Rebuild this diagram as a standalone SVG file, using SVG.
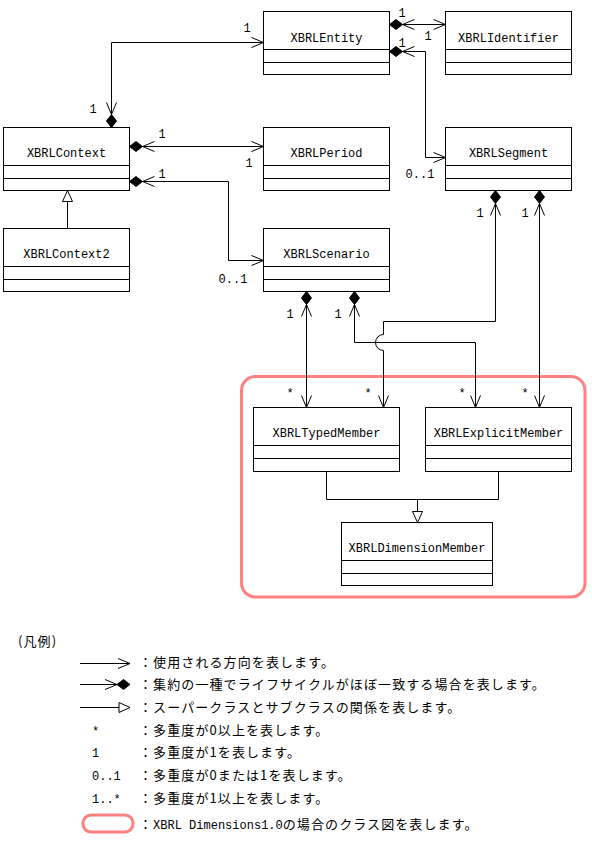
<svg xmlns="http://www.w3.org/2000/svg" width="592" height="842" viewBox="0 0 592 842">
<defs>
<style>
.box{fill:#fff;stroke:#000;stroke-width:1}
.dv{stroke:#000;stroke-width:1}
.nm{font-family:"Liberation Mono","DejaVu Sans Mono",monospace;font-size:12px;text-anchor:middle;fill:#000}
.ml{font-family:"Liberation Mono","DejaVu Sans Mono",monospace;font-size:12px;text-anchor:middle;fill:#000}
.ms{font-family:"Liberation Mono","DejaVu Sans Mono",monospace;font-size:12px;fill:#000}
.cn{fill:none;stroke:#000;stroke-width:1}
.lg{font-family:"Noto Sans CJK JP",sans-serif;font-size:13px;fill:#000;letter-spacing:1.1px}
.lt{font-family:"Liberation Mono","DejaVu Sans Mono",monospace;font-size:12px;letter-spacing:0}
.pk{fill:none;stroke:#FF8080;stroke-width:3}
</style>
<marker id="arr" markerUnits="userSpaceOnUse" orient="auto-start-reverse" overflow="visible" refX="0" refY="0" markerWidth="1" markerHeight="1">
<path d="M-12,-5 L0,0 L-12,5" fill="none" stroke="#000" stroke-width="1"/>
</marker>
<marker id="da" markerUnits="userSpaceOnUse" orient="auto-start-reverse" overflow="visible" refX="0" refY="0" markerWidth="1" markerHeight="1">
<path d="M0,0 L-6.5,-5 L-13,0 L-6.5,5 Z" fill="#000" stroke="#000" stroke-width="1"/>
<path d="M-25,-5 L-13,0 L-25,5" fill="none" stroke="#000" stroke-width="1"/>
</marker>
<marker id="tri" markerUnits="userSpaceOnUse" orient="auto-start-reverse" overflow="visible" refX="0" refY="0" markerWidth="1" markerHeight="1">
<path d="M-11,-5 L0,0 L-11,5 Z" fill="#fff" stroke="#000" stroke-width="1"/>
</marker>
</defs>
<rect width="592" height="842" fill="#fff"/>

<g id="dimensions-frame">
<rect class="pk" x="241.5" y="376.5" width="343.5" height="220.5" rx="14"/>
</g>

<g id="connectors">
<path class="cn" d="M111.5,127.5 V42.5 H263.5" marker-start="url(#da)" marker-end="url(#arr)"/>
<path class="cn" d="M129.5,146.5 H263.5" marker-start="url(#da)" marker-end="url(#arr)"/>
<path class="cn" d="M129.5,181.5 H228.5 V260.5 H263.5" marker-start="url(#da)" marker-end="url(#arr)"/>
<path class="cn" d="M389.5,24.5 H445.5" marker-start="url(#da)" marker-end="url(#arr)"/>
<path class="cn" d="M389.5,51.5 H425.5 V157.5 H445.5" marker-start="url(#da)" marker-end="url(#arr)"/>
<path class="cn" d="M306.5,291.5 V407.5" marker-start="url(#da)" marker-end="url(#arr)"/>
<path class="cn" d="M354.5,291.5 V342.5 H475.5 V407.5" marker-start="url(#da)" marker-end="url(#arr)"/>
<path class="cn" d="M495.5,190.5 V321.5 H383.5 V334.5 A8,8 0 0,0 383.5,350.5 V407.5" marker-start="url(#da)" marker-end="url(#arr)"/>
<path class="cn" d="M539.5,190.5 V407.5" marker-start="url(#da)" marker-end="url(#arr)"/>
<path class="cn" d="M326.5,471.5 V499.5 H498.5 V471.5"/>
<path class="cn" d="M417.5,499.5 V522.5" marker-end="url(#tri)"/>
<path class="cn" d="M67.5,228.5 V190.5" marker-end="url(#tri)"/>
</g>

<g id="multiplicities">
<text class="ml" x="247" y="32">1</text>
<text class="ml" x="93" y="113">1</text>
<text class="ml" x="162" y="138">1</text>
<text class="ml" x="249" y="167">1</text>
<text class="ml" x="162" y="178">1</text>
<text class="ml" x="233" y="283">0..1</text>
<text class="ml" x="402" y="17">1</text>
<text class="ml" x="428" y="40">1</text>
<text class="ml" x="402" y="47">1</text>
<text class="ml" x="420" y="178">0..1</text>
<text class="ml" x="480" y="217">1</text>
<text class="ml" x="525" y="217">1</text>
<text class="ml" x="290" y="318">1</text>
<text class="ml" x="338" y="318">1</text>
<text class="ml" x="290" y="397">*</text>
<text class="ml" x="368" y="397">*</text>
<text class="ml" x="462" y="397">*</text>
<text class="ml" x="525" y="397">*</text>
</g>

<g id="XBRLEntity">
<rect class="box" x="263.5" y="11.5" width="126" height="63"/>
<line class="dv" x1="263.5" y1="49.5" x2="389.5" y2="49.5"/>
<line class="dv" x1="263.5" y1="62.5" x2="389.5" y2="62.5"/>
<text class="nm" x="326.5" y="42">XBRLEntity</text>
</g>
<g id="XBRLIdentifier">
<rect class="box" x="445.5" y="11.5" width="126" height="63"/>
<line class="dv" x1="445.5" y1="49.5" x2="571.5" y2="49.5"/>
<line class="dv" x1="445.5" y1="62.5" x2="571.5" y2="62.5"/>
<text class="nm" x="508.5" y="42">XBRLIdentifier</text>
</g>
<g id="XBRLContext">
<rect class="box" x="3.5" y="127.5" width="126" height="63"/>
<line class="dv" x1="3.5" y1="165.5" x2="129.5" y2="165.5"/>
<line class="dv" x1="3.5" y1="178.5" x2="129.5" y2="178.5"/>
<text class="nm" x="66.5" y="157">XBRLContext</text>
</g>
<g id="XBRLPeriod">
<rect class="box" x="263.5" y="127.5" width="126" height="63"/>
<line class="dv" x1="263.5" y1="165.5" x2="389.5" y2="165.5"/>
<line class="dv" x1="263.5" y1="178.5" x2="389.5" y2="178.5"/>
<text class="nm" x="326.5" y="157">XBRLPeriod</text>
</g>
<g id="XBRLSegment">
<rect class="box" x="445.5" y="127.5" width="126" height="63"/>
<line class="dv" x1="445.5" y1="165.5" x2="571.5" y2="165.5"/>
<line class="dv" x1="445.5" y1="178.5" x2="571.5" y2="178.5"/>
<text class="nm" x="508.5" y="157">XBRLSegment</text>
</g>
<g id="XBRLContext2">
<rect class="box" x="3.5" y="228.5" width="126" height="63"/>
<line class="dv" x1="3.5" y1="266.5" x2="129.5" y2="266.5"/>
<line class="dv" x1="3.5" y1="279.5" x2="129.5" y2="279.5"/>
<text class="nm" x="66.5" y="258">XBRLContext2</text>
</g>
<g id="XBRLScenario">
<rect class="box" x="263.5" y="228.5" width="126" height="63"/>
<line class="dv" x1="263.5" y1="266.5" x2="389.5" y2="266.5"/>
<line class="dv" x1="263.5" y1="279.5" x2="389.5" y2="279.5"/>
<text class="nm" x="326.5" y="258">XBRLScenario</text>
</g>
<g id="XBRLTypedMember">
<rect class="box" x="253.5" y="407.5" width="146" height="64"/>
<line class="dv" x1="253.5" y1="445.5" x2="399.5" y2="445.5"/>
<line class="dv" x1="253.5" y1="458.5" x2="399.5" y2="458.5"/>
<text class="nm" x="326.5" y="437">XBRLTypedMember</text>
</g>
<g id="XBRLExplicitMember">
<rect class="box" x="425.5" y="407.5" width="146" height="64"/>
<line class="dv" x1="425.5" y1="445.5" x2="571.5" y2="445.5"/>
<line class="dv" x1="425.5" y1="458.5" x2="571.5" y2="458.5"/>
<text class="nm" x="498.5" y="437">XBRLExplicitMember</text>
</g>
<g id="XBRLDimensionMember">
<rect class="box" x="341.5" y="522.5" width="151" height="63"/>
<line class="dv" x1="341.5" y1="560.5" x2="492.5" y2="560.5"/>
<line class="dv" x1="341.5" y1="573.5" x2="492.5" y2="573.5"/>
<text class="nm" x="417" y="552">XBRLDimensionMember</text>
</g>

<g id="legend">
<text class="lg" x="18" y="646">(凡例)</text>
<path class="cn" d="M80,663.5 H130" marker-end="url(#arr)"/>
<path class="cn" d="M80,684.5 H130" marker-end="url(#da)"/>
<path class="cn" d="M80,707.5 H130" marker-end="url(#tri)"/>
<text class="ms" x="92" y="735">*</text>
<text class="ms" x="92" y="757">1</text>
<text class="ms" x="92" y="780">0..1</text>
<text class="ms" x="92" y="803">1..*</text>
<rect class="pk" x="83" y="815" width="50" height="17" rx="8"/>
<text class="lg" x="139" y="667">：使用される方向を表します。</text>
<text class="lg" x="139" y="689">：集約の一種でライフサイクルがほぼ一致する場合を表します。</text>
<text class="lg" x="139" y="712">：スーパークラスとサブクラスの関係を表します。</text>
<text class="lg" x="139" y="735">：多重度が0以上を表します。</text>
<text class="lg" x="139" y="757">：多重度が1を表します。</text>
<text class="lg" x="139" y="780">：多重度が0または1を表します。</text>
<text class="lg" x="139" y="803">：多重度が1以上を表します。</text>
<text class="lg" x="139" y="829">：<tspan class="lt">XBRL Dimensions1.0</tspan>の場合のクラス図を表します。</text>
</g>
</svg>
